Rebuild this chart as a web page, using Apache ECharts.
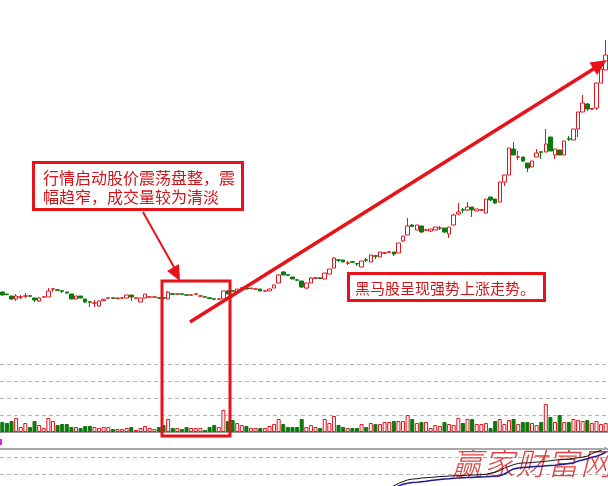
<!DOCTYPE html>
<html><head><meta charset="utf-8">
<script src="https://cdn.jsdelivr.net/npm/echarts/dist/echarts.min.js"></script>
<style>html,body{margin:0;padding:0;background:#fff}#c{width:608px;height:486px}</style>
</head><body><div id="c"></div><script>
// ---- data ----
// each candle: [open, close, low, high]
const candles = [
[4.32,4.20,4.18,4.34],[4.24,4.22,4.18,4.24],[4.16,4.04,4.00,4.16],[4.04,4.16,3.96,4.24],[4.11,4.13,4.04,4.20],
[4.15,4.17,4.08,4.28],[4.17,4.15,4.12,4.18],[4.08,4.00,3.92,4.08],[3.96,4.08,3.92,4.12],[4.11,4.13,4.10,4.14],
[4.12,4.36,4.12,4.48],[4.43,4.45,4.32,4.48],[4.41,4.39,4.36,4.42],[4.37,4.35,4.28,4.38],[4.32,4.28,4.26,4.32],
[4.24,4.04,4.04,4.24],[4.04,4.16,4.02,4.16],[4.16,4.08,4.08,4.16],[4.04,3.92,3.88,4.04],[3.93,3.91,3.72,3.93],
[3.87,3.89,3.72,4.00],[3.76,3.96,3.74,3.98],[3.97,4.03,3.95,4.05],[4.07,4.09,4.06,4.10],[4.09,4.07,4.06,4.10],
[4.05,4.08,4.04,4.09],[4.07,4.09,4.06,4.10],[4.08,4.20,4.08,4.20],[4.20,4.12,3.96,4.20],[4.07,4.09,4.06,4.10],
[3.92,4.08,3.92,4.08],[4.08,4.24,4.08,4.24],[4.11,4.13,4.10,4.14],[4.11,4.13,4.10,4.14],[4.09,4.07,4.06,4.10],
[4.09,4.07,4.04,4.10],[4.04,4.32,4.04,4.36],[4.25,4.23,4.20,4.28],[4.23,4.25,4.20,4.28],[4.25,4.23,4.22,4.26],
[4.21,4.19,4.18,4.22],[4.19,4.21,4.18,4.24],[4.23,4.25,4.22,4.28],[4.15,4.17,4.14,4.20],[4.13,4.11,4.10,4.14],
[4.09,4.06,4.06,4.10],[4.05,4.03,4.02,4.06],[4.03,4.05,4.00,4.06],[4.04,4.36,4.02,4.36],[4.36,4.24,4.24,4.40],
[4.37,4.35,4.34,4.38],[4.32,4.44,4.30,4.44],[4.47,4.49,4.46,4.52],[4.48,4.44,4.42,4.48],[4.46,4.48,4.44,4.48],
[4.43,4.45,4.42,4.46],[4.44,4.36,4.36,4.44],[4.35,4.37,4.34,4.38],[4.36,4.44,4.36,4.44],[4.48,4.60,4.48,4.62],
[4.68,5.00,4.68,5.04],[5.12,5.00,5.00,5.16],[5.01,4.99,4.96,5.04],[4.92,4.84,4.84,4.92],[4.81,4.79,4.76,4.84],
[4.76,4.52,4.48,4.76],[4.48,4.68,4.44,4.68],[4.68,4.88,4.68,4.92],[4.87,4.89,4.84,4.92],[4.89,4.86,4.86,4.90],
[4.84,5.08,4.84,5.08],[5.04,5.24,5.04,5.24],[5.28,5.68,5.28,5.72],[5.61,5.59,5.52,5.61],[5.60,5.52,5.52,5.60],
[5.47,5.49,5.40,5.56],[5.53,5.51,5.48,5.56],[5.46,5.44,5.36,5.46],[5.32,5.56,5.32,5.56],[5.61,5.59,5.52,5.68],
[5.52,5.80,5.52,5.80],[5.77,5.75,5.64,5.80],[5.72,5.92,5.72,5.92],[5.87,5.89,5.84,5.92],[5.90,5.93,5.88,5.96],
[5.92,5.84,5.76,5.92],[5.88,6.28,5.88,6.28],[6.36,6.56,6.32,6.56],[6.60,6.96,6.60,7.28],[7.00,6.94,6.92,7.04],
[6.80,7.00,6.80,7.00],[6.96,6.72,6.68,6.96],[6.79,6.81,6.76,6.84],[6.76,6.84,6.72,6.84],[6.80,6.92,6.80,6.92],
[6.87,6.89,6.80,6.96],[6.88,6.72,6.68,6.88],[6.64,6.92,6.48,6.92],[7.00,7.40,7.00,7.44],[7.44,7.52,7.40,7.88],
[7.61,7.59,7.48,7.68],[7.60,7.72,7.56,7.92],[7.72,7.60,7.32,7.72],[7.56,7.64,7.56,7.64],[7.59,7.61,7.56,7.64],
[7.48,8.04,7.48,8.04],[8.12,8.00,7.96,8.12],[8.04,7.88,7.84,8.04],[7.92,8.72,7.92,8.72],[8.72,9.00,8.56,9.00],
[9.00,10.08,9.00,10.08],[10.04,9.80,9.80,10.32],[9.71,9.73,9.60,9.96],[9.72,9.56,9.52,9.72],[9.48,9.28,9.12,9.48],
[9.32,9.56,9.32,9.56],[9.72,9.88,9.72,10.04],[9.93,9.91,9.64,9.93],[9.92,10.24,9.92,10.84],[10.52,9.96,9.96,10.52],
[9.80,10.04,9.64,10.04],[10.00,9.80,9.80,10.00],[9.80,10.36,9.80,10.36],[10.45,10.43,10.36,10.56],[10.40,10.84,10.40,10.84],
[10.84,11.52,10.52,11.52],[11.52,11.88,11.52,12.20],[11.84,11.64,11.56,11.88],[11.63,11.66,11.60,11.68],[11.68,12.68,11.60,12.68],
[12.68,13.24,12.68,13.24],[13.20,13.80,13.20,14.40]
];
const volumes = [
10,9,11,14,5,9,5,11,7,4, 14,11,7,8,8,5,5,4,6,6, 5,4,5,5,3,3,3,4,5,2, 4,6,4,3,5,7,13,4,4,3,
5,4,4,4,2,5,7,5,22,11, 12,9,7,6,4,4,4,4,6,8, 13,8,5,5,5,13,5,7,5,4, 13,9,16,7,5,4,4,4,8,5,
9,8,8,10,10,11,11,11,17,13, 9,10,10,4,7,6,10,8,7,14, 9,13,13,8,8,9,4,11,13,8, 12,13,8,10,10,9,7,10,28,15,
10,17,10,10,13,12,11,12,9,11, 8,9
];
// lower indicator panel (two lines, only the visible right part)
const lineStart = 84;
const blackLine = [2.10,2.30,2.45,2.55,2.65,2.70,2.72,2.76,2.78,2.80,2.82,2.85,2.86,2.88,2.90,2.90,2.92,2.93,2.94,2.95,2.96,2.98,3.05,3.10,3.20,3.35,3.45,3.55,3.62,3.65,3.65,3.68,3.70,3.72,3.75,3.78,3.82,3.84,3.86,3.88,3.92,3.95,4.00,4.05,4.20,4.30,4.40,4.55];
const navyLine  = [null,2.15,2.30,2.40,2.45,2.50,2.52,2.55,2.58,2.62,2.65,2.68,2.70,2.72,2.75,2.76,2.78,2.79,2.80,2.82,2.83,2.84,2.86,2.88,2.90,3.00,3.15,3.30,3.35,3.38,3.40,3.42,3.44,3.46,3.48,3.50,3.52,3.55,3.58,3.62,3.66,3.76,3.82,3.90,3.98,4.05,4.15,4.28];
const note1 = ['行情启动股价震荡盘整，震', '幅趋窄，成交量较为清淡'];
const note2 = '黑马股呈现强势上涨走势。';
const watermark = ['赢','家','财','富','网'];

// ---- build ----
const N = candles.length;
const cats = candles.map((_, i) => String(i + 1));
const RED = '#e0181e', GREEN = '#0a7a0a', BOXRED = '#e8121a', TXTRED = '#d0141a';
const pad = arr => { const a = new Array(N).fill(null); arr.forEach((v, k) => a[lineStart + k] = v); return a; };
const volData = volumes.map((v, i) => {
  const up = candles[i][1] >= candles[i][0];
  return { value: v, itemStyle: up ? { color: '#fff4f4', borderColor: RED, borderWidth: 1 } : { color: GREEN, borderColor: GREEN, borderWidth: 1 } };
});
const chart = echarts.init(document.getElementById('c'), null, { renderer: 'canvas' });
const dash = { color: '#b4b4b4', type: [4, 3], width: 1 };
const graphics = [];
graphics.push({ type: 'line', z: 5, shape: { x1: 0, y1: 449, x2: 608, y2: 449 }, style: { stroke: '#a8a8a8', lineWidth: 2 } });
graphics.push({ type: 'rect', z: 5, shape: { x: 0, y: 439, width: 2, height: 6 }, style: { fill: '#e020e0' } });
const wmX = [467, 499, 531, 563, 596];
watermark.forEach((ch, k) => graphics.push({ type: 'text', z: 1, x: wmX[k], y: 463,
  style: { text: ch, fill: '#dd2a2a', font: 'italic 300 31px "Noto Sans CJK SC"', align: 'center', verticalAlign: 'middle', opacity: 0.9 } }));
graphics.push({ type: 'rect', z: 20, shape: { x: 33.5, y: 162.5, width: 209, height: 47 }, style: { fill: '#fff', stroke: BOXRED, lineWidth: 3 } });
note1.forEach((t, k) => graphics.push({ type: 'text', z: 21, x: 43, y: 178 + k * 19,
  style: { text: t, fill: TXTRED, font: '16px "Noto Sans CJK SC"', verticalAlign: 'middle' } }));
graphics.push({ type: 'rect', z: 20, shape: { x: 348.5, y: 273.5, width: 196, height: 27 }, style: { fill: '#fff', stroke: BOXRED, lineWidth: 3 } });
graphics.push({ type: 'text', z: 21, x: 355, y: 288, style: { text: note2, fill: TXTRED, font: '15px "Noto Sans CJK SC"', verticalAlign: 'middle' } });
graphics.push({ type: 'rect', z: 20, shape: { x: 162, y: 281, width: 68, height: 155 }, style: { fill: 'none', stroke: BOXRED, lineWidth: 3 } });
graphics.push({ type: 'line', z: 20, shape: { x1: 143, y1: 212, x2: 175, y2: 269 }, style: { stroke: BOXRED, lineWidth: 2 } });
graphics.push({ type: 'polygon', z: 20, shape: { points: [[180, 281], [179, 264], [167, 271]] }, style: { fill: BOXRED } });
graphics.push({ type: 'line', z: 20, shape: { x1: 190, y1: 322, x2: 595, y2: 68 }, style: { stroke: BOXRED, lineWidth: 3.5 } });
graphics.push({ type: 'polygon', z: 20, shape: { points: [[607, 60], [597, 75], [589.5, 62.5]] }, style: { fill: BOXRED } });

chart.setOption({
  animation: false,
  backgroundColor: '#fff',
  grid: [
    { left: 0, right: 0, top: 40, height: 300 },
    { left: 0, right: 0, top: 364, height: 68 },
    { left: 0, right: 0, top: 457, height: 17 }
  ],
  xAxis: [
    { type: 'category', data: cats, gridIndex: 0, show: false },
    { type: 'category', data: cats, gridIndex: 1, axisLine: { show: true, lineStyle: { color: '#999', width: 2 } }, axisTick: { show: false }, axisLabel: { show: false }, splitLine: { show: false } },
    { type: 'category', data: cats, gridIndex: 2, show: false }
  ],
  yAxis: [
    { gridIndex: 0, min: 2.4, max: 14.4, show: false },
    { gridIndex: 1, min: 0, max: 68, interval: 17, axisLine: { show: false }, axisTick: { show: false }, axisLabel: { show: false }, splitLine: { show: true, lineStyle: dash } },
    { gridIndex: 2, min: 3, max: 4, interval: 1, axisLine: { show: false }, axisTick: { show: false }, axisLabel: { show: false }, splitLine: { show: true, lineStyle: dash } }
  ],
  series: [
    { type: 'candlestick', xAxisIndex: 0, yAxisIndex: 0, data: candles, barWidth: 4,
      itemStyle: { color: '#fff', color0: GREEN, borderColor: RED, borderColor0: GREEN, borderWidth: 1 } },
    { type: 'bar', xAxisIndex: 1, yAxisIndex: 1, data: volData, barWidth: 4 },
    { type: 'line', xAxisIndex: 2, yAxisIndex: 2, data: pad(blackLine), symbol: 'none', clip: false, lineStyle: { color: '#111', width: 1 }, z: 3 },
    { type: 'line', xAxisIndex: 2, yAxisIndex: 2, data: pad(navyLine), symbol: 'none', clip: false, lineStyle: { color: '#1c1c8a', width: 1.5 }, z: 3 }
  ],
  graphic: graphics
});
</script></body></html>
